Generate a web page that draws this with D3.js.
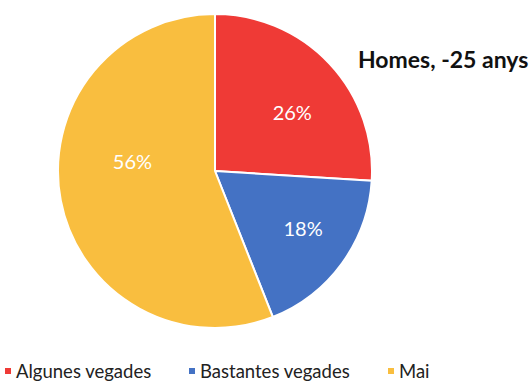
<!DOCTYPE html>
<html>
<head>
<meta charset="utf-8">
<script src="https://cdn.jsdelivr.net/npm/d3@7/dist/d3.min.js"></script>
<style>
  html, body { margin: 0; padding: 0; background: #fff; }
  svg { display: block; }
</style>
</head>
<body>
<svg id="chart" width="531" height="383"></svg>
<script>
// Responses for men under 25
const categories = ["Algunes vegades", "Bastantes vegades", "Mai"];
const values = [26, 18, 56];
const colors = ["#EF3A36", "#4472C4", "#F9BE3F"];
const title = "Homes, -25 anys";

const svg = d3.select("#chart");
const font = "Lato, 'Open Sans', sans-serif";

const cx = 215, cy = 171, radius = 157;

const pie = d3.pie().sort(null).value(d => d.value);
const arcs = pie(categories.map((c, i) => ({ name: c, value: values[i], color: colors[i] })));

const arc = d3.arc().innerRadius(0).outerRadius(radius);

// Label placement: radius fraction and angular nudge (radians) per slice
const labelRadius = [0.62, 0.67, 0.53];
const labelNudge = [0.10, -0.05, 0.31];
function labelPos(d, i) {
  const a = (d.startAngle + d.endAngle) / 2 + labelNudge[i];
  const r = radius * labelRadius[i];
  return [r * Math.sin(a), -r * Math.cos(a)];
}

const g = svg.append("g").attr("transform", `translate(${cx},${cy})`);

g.selectAll("path.slice")
  .data(arcs)
  .join("path")
  .attr("class", "slice")
  .attr("d", arc)
  .attr("fill", d => d.data.color)
  .attr("stroke", "#fff")
  .attr("stroke-width", 2)
  .attr("stroke-linejoin", "round");

g.selectAll("text.pct")
  .data(arcs)
  .join("text")
  .attr("class", "pct")
  .attr("transform", (d, i) => `translate(${labelPos(d, i)})`)
  .attr("text-anchor", "middle")
  .attr("dominant-baseline", "central")
  .attr("fill", "#fff")
  .attr("font-family", font)
  .attr("font-size", 20)
  .text(d => `${d.data.value}%`);

svg.append("text")
  .attr("x", 358)
  .attr("y", 68)
  .attr("font-family", font)
  .attr("font-weight", "bold")
  .attr("font-size", 23)
  .attr("fill", "#111")
  .text(title);

// Legend along the bottom
const legendX = [5, 189, 388];
const legend = svg.append("g");
const items = legend.selectAll("g")
  .data(categories)
  .join("g")
  .attr("transform", (d, i) => `translate(${legendX[i]},371)`);

items.append("rect")
  .attr("x", 0).attr("y", -3)
  .attr("width", 6).attr("height", 6)
  .attr("fill", (d, i) => colors[i]);

items.append("text")
  .attr("x", 11)
  .attr("y", 0)
  .attr("dominant-baseline", "central")
  .attr("font-family", font)
  .attr("font-size", 18.5)
  .attr("fill", "#222")
  .text(d => d);
</script>
</body>
</html>
